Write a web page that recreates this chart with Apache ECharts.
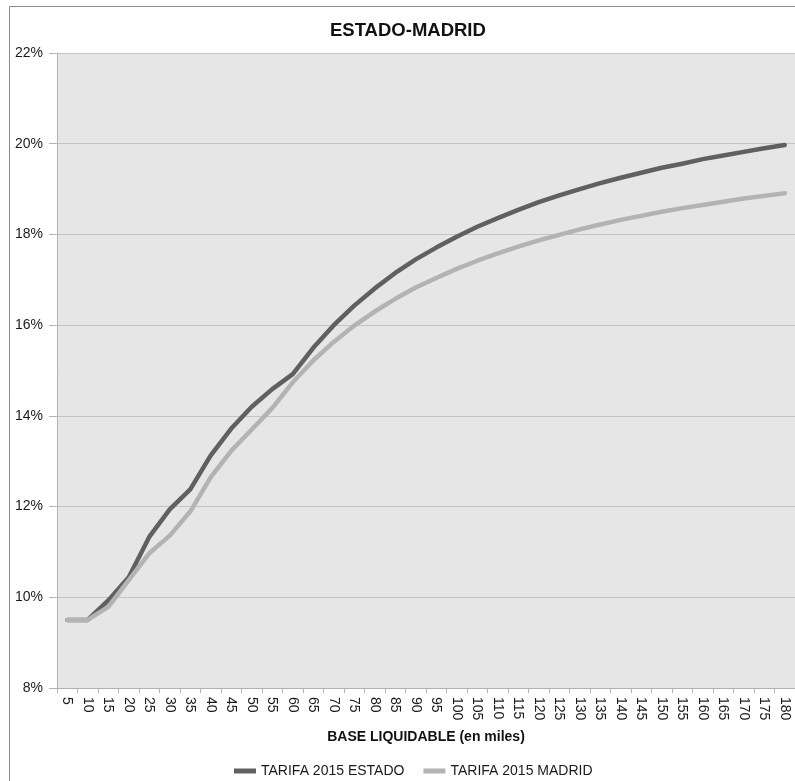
<!DOCTYPE html>
<html>
<head>
<meta charset="utf-8">
<title>ESTADO-MADRID</title>
<script src="https://cdn.jsdelivr.net/npm/echarts@6/dist/echarts.min.js"></script>
<style>
  html, body { margin: 0; padding: 0; background: #ffffff; }
  #chart { width: 795px; height: 781px; }
</style>
</head>
<body>
<div id="chart"></div>
<script>
// Base liquidable in thousands of euros
const bases = [5, 10, 15, 20, 25, 30, 35, 40, 45, 50, 55, 60, 65, 70, 75, 80, 85, 90,
  95, 100, 105, 110, 115, 120, 125, 130, 135, 140, 145, 150, 155, 160, 165, 170, 175, 180];

// Average rate (%) – state scale
const tarifaEstado = [9.50, 9.50, 9.93, 10.44, 11.33, 11.94, 12.38, 13.13, 13.72, 14.20,
  14.59, 14.92, 15.50, 16.00, 16.43, 16.81, 17.15, 17.45, 17.71, 17.95, 18.17, 18.36,
  18.54, 18.71, 18.86, 19.00, 19.13, 19.25, 19.36, 19.47, 19.56, 19.66, 19.74, 19.82,
  19.90, 19.97];

// Average rate (%) – Madrid regional scale
const tarifaMadrid = [9.50, 9.50, 9.79, 10.38, 10.97, 11.36, 11.89, 12.65, 13.23, 13.70,
  14.17, 14.74, 15.22, 15.63, 15.99, 16.30, 16.58, 16.83, 17.04, 17.24, 17.42, 17.58,
  17.73, 17.87, 17.99, 18.11, 18.22, 18.32, 18.41, 18.50, 18.58, 18.65, 18.72, 18.79,
  18.85, 18.91];

const seriesNames = ['TARIFA 2015 ESTADO', 'TARIFA 2015 MADRID'];
const yTicks = { min: 8, max: 22, step: 2 };

const FONT = '"Liberation Sans", Arial, sans-serif';
const chart = echarts.init(document.getElementById('chart'), null, { renderer: 'canvas' });

chart.setOption({
  backgroundColor: '#ffffff',
  animation: false,
  graphic: [{
    type: 'rect',
    silent: true,
    z: -10,
    shape: { x: 9.5, y: 6.5, width: 820, height: 820 },
    style: { fill: 'none', stroke: '#8c8c8c', lineWidth: 1 }
  }],
  title: {
    text: 'ESTADO-MADRID',
    left: 325,
    top: 16,
    textStyle: { fontFamily: FONT, fontSize: 18.5, fontWeight: 'bold', color: '#111111' }
  },
  legend: {
    data: seriesNames,
    top: 759,
    left: 229,
    icon: 'rect',
    itemWidth: 22,
    itemHeight: 5,
    itemGap: 19,
    textStyle: { fontFamily: FONT, fontSize: 14, color: '#1a1a1a' }
  },
  grid: {
    left: 57,
    top: 53,
    right: 0,
    bottom: 93,
    show: true,
    backgroundColor: '#e6e6e6',
    borderWidth: 0
  },
  xAxis: {
    type: 'category',
    data: bases,
    boundaryGap: true,
    name: 'BASE LIQUIDABLE (en miles)',
    nameLocation: 'middle',
    nameGap: 42,
    nameTextStyle: { fontFamily: FONT, fontSize: 14, fontWeight: 'bold', color: '#111111' },
    axisLine: { show: true, lineStyle: { color: '#b4b4b4', width: 1 } },
    axisTick: { show: true, interval: 0, length: 5, lineStyle: { color: '#b4b4b4' } },
    axisLabel: {
      interval: 0,
      rotate: -90,
      margin: 9,
      fontFamily: FONT,
      fontSize: 14,
      color: '#1a1a1a'
    },
    splitLine: { show: false }
  },
  yAxis: {
    type: 'value',
    min: yTicks.min,
    max: yTicks.max,
    interval: yTicks.step,
    axisLine: { show: true, lineStyle: { color: '#b4b4b4', width: 1 } },
    axisTick: { show: true, length: 8, lineStyle: { color: '#b4b4b4' } },
    axisLabel: {
      formatter: '{value}%',
      margin: 14,
      fontFamily: FONT,
      fontSize: 14,
      color: '#1a1a1a'
    },
    splitLine: { show: true, lineStyle: { color: '#c4c4c4', width: 1 } }
  },
  series: [
    {
      name: seriesNames[0],
      type: 'line',
      data: tarifaEstado,
      showSymbol: false,
      symbol: 'none',
      color: '#606060',
      lineStyle: { color: '#606060', width: 4.5, cap: 'round', join: 'round' },
      z: 2
    },
    {
      name: seriesNames[1],
      type: 'line',
      data: tarifaMadrid,
      showSymbol: false,
      symbol: 'none',
      color: '#b3b3b3',
      lineStyle: { color: '#b3b3b3', width: 4.5, cap: 'round', join: 'round' },
      z: 3
    }
  ]
});
</script>
</body>
</html>
